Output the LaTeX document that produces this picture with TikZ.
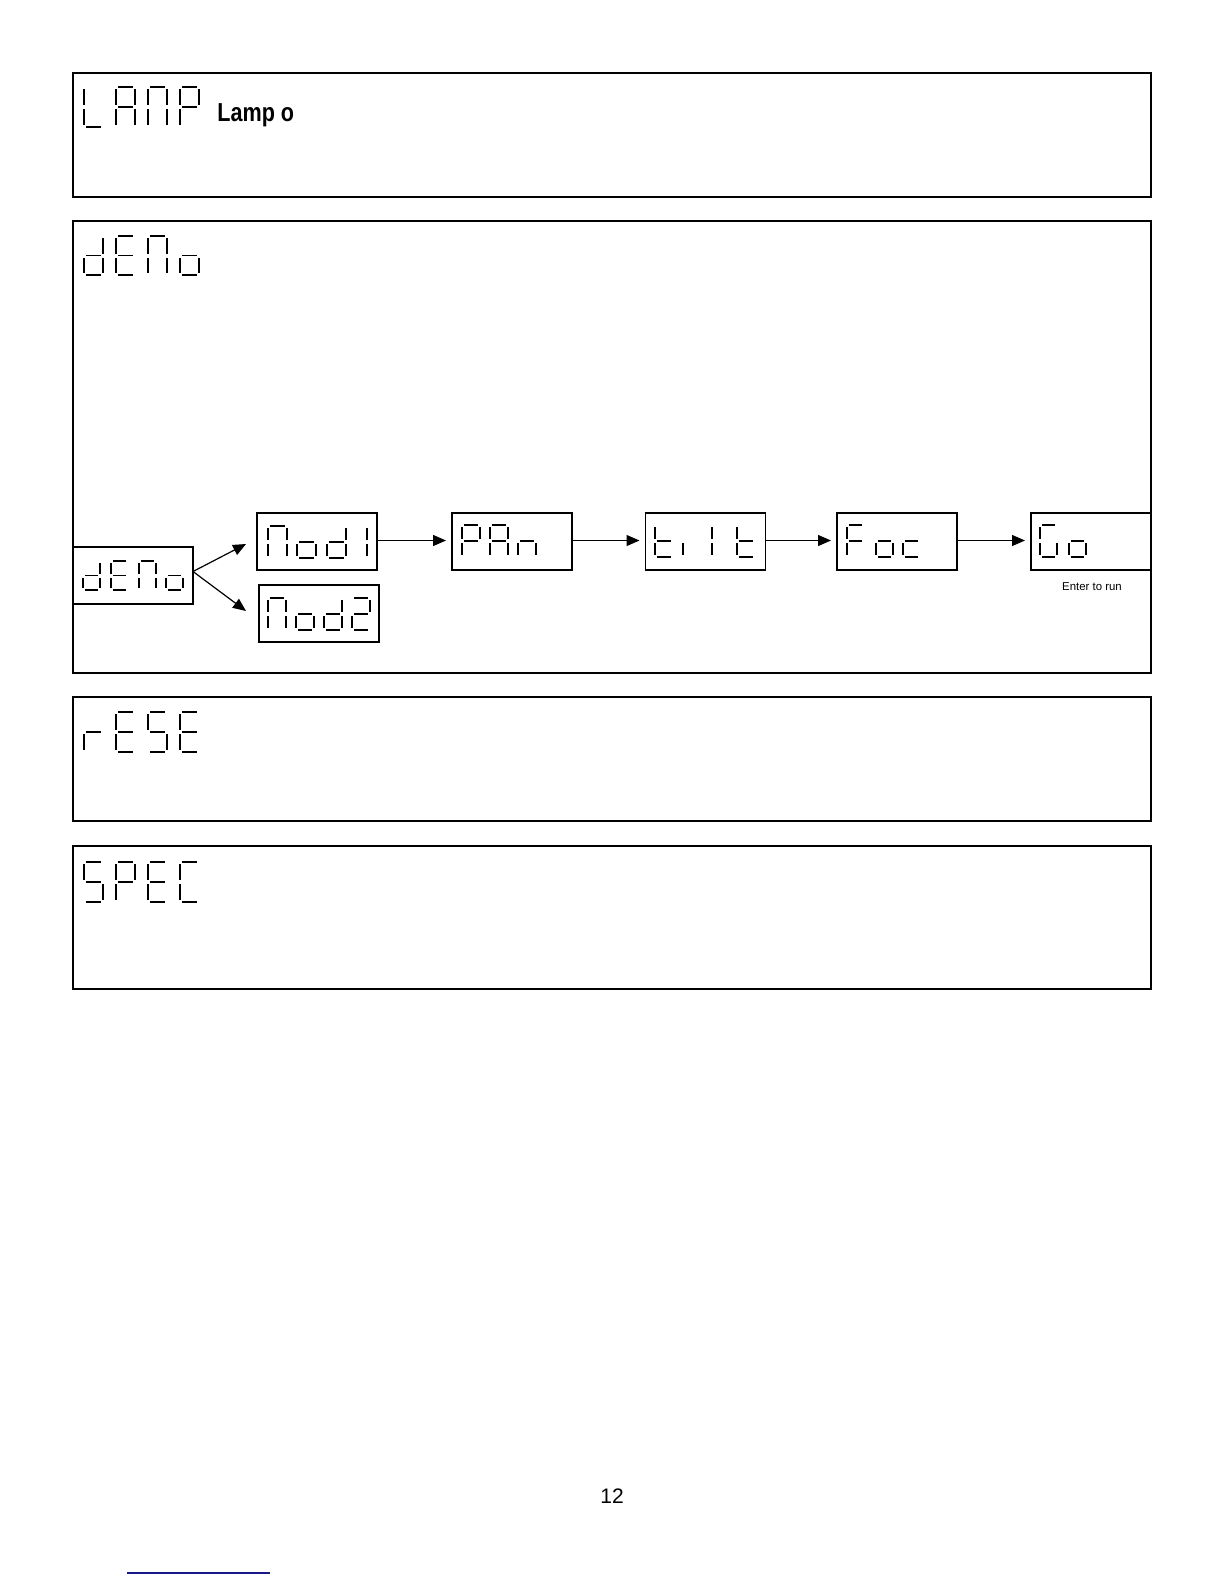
\documentclass[tikz,border=0pt]{standalone}
\usepackage{fontspec}
\setmainfont{Liberation Sans}
\newfontfamily\lampfont[FakeStretch=0.83]{Liberation Sans}
\usetikzlibrary{arrows.meta}
\definecolor{navyline}{RGB}{25,25,140}

\def\sgpa{(\G,0) -- (\W-\G,0)}
\def\sgpb{(\W,\G) -- (\W,\H/2-\G)}
\def\sgpc{(\W,\H/2+\G) -- (\W,\H-\G)}
\def\sgpd{(\G,\H) -- (\W-\G,\H)}
\def\sgpe{(0,\H/2+\G) -- (0,\H-\G)}
\def\sgpf{(0,\G) -- (0,\H/2-\G)}
\def\sgpg{(\G,\H/2) -- (\W-\G,\H/2)}

% x, y(top), width, height, gap, segments
\newcommand\segdigit[6]{%
  \begin{scope}[shift={(#1,#2)}]
    \def\W{#3}\def\H{#4}\def\G{#5}
    \foreach \s in {#6}{%
      \expandafter\let\expandafter\segpath\csname sgp\s\endcsname
      \draw[segline] \segpath;}
  \end{scope}}

\tikzset{
  frame/.style={draw=black, line width=0.6pt},
  dispbox/.style={draw=black, line width=0.75pt, rectangle,
    minimum width=60pt, minimum height=28.5pt, inner sep=0pt, outer sep=0pt},
  segline/.style={line width=0.95pt, line cap=butt, draw=black},
  flow/.style={-{Triangle[length=6.5pt,width=5.5pt]}, line width=0.6pt, draw=black},
}

\begin{document}
\begin{tikzpicture}[x=0.5pt, y=-0.5pt]
\useasboundingbox (0,0) rectangle (1224,1584);
\fill[white] (0,0) rectangle (1224,1584);

% outer frames
\draw[frame] (73,73) rectangle (1151,197);
\draw[frame] (73,221) rectangle (1151,673);
\draw[frame] (73,697) rectangle (1151,821);
\draw[frame] (73,846) rectangle (1151,989);

% LAMP
\segdigit{84}{87}{19}{40}{2}{d,e,f}
\segdigit{116}{87}{19}{40}{2}{a,b,c,e,f,g}
\segdigit{148}{87}{19}{40}{2}{a,b,c,e,f}
\segdigit{180}{87}{19}{40}{2}{a,b,e,f,g}
\node[anchor=base west, inner sep=0pt, font=\lampfont\bfseries\fontsize{13}{15}\selectfont] (lamptxt) at (217,122) {Lamp o};

% dEMo header
\segdigit{84}{236}{19}{39}{2}{b,c,d,e,g}
\segdigit{116}{236}{19}{39}{2}{a,d,e,f,g}
\segdigit{148}{236}{19}{39}{2}{a,b,c,e,f}
\segdigit{180}{236}{19}{39}{2}{c,d,e,g}

% rESE
\segdigit{84}{712}{19}{40}{2}{e,g}
\segdigit{116}{712}{19}{40}{2}{a,d,e,f,g}
\segdigit{148}{712}{19}{40}{2}{a,c,d,f,g}
\segdigit{180}{712}{19}{40}{2}{a,d,e,f,g}

% SPEC
\segdigit{84}{862}{19}{40}{2}{a,c,d,f,g}
\segdigit{116}{862}{19}{40}{2}{a,b,e,f,g}
\segdigit{148}{862}{19}{40}{2}{a,d,e,f,g}
\segdigit{180}{862}{19}{40}{2}{a,d,e,f}

% display boxes
\node[dispbox] (demo2) at (133,575.5) {};
\node[dispbox] (mod1) at (317,541.5) {};
\node[dispbox] (mod2) at (319,613.5) {};
\node[dispbox] (pan) at (512,541.5) {};
\node[dispbox] (tilt) at (705.5,541.5) {};
\node[dispbox] (foc) at (897,541.5) {};
\node[dispbox] (go) at (1091,541.5) {};

% dEMo small
\segdigit{83}{561}{17}{29}{2}{b,c,d,e,g}
\segdigit{111}{561}{17}{29}{2}{a,d,e,f,g}
\segdigit{139}{561}{17}{29}{2}{a,b,c,e,f}
\segdigit{166}{561}{17}{29}{2}{c,d,e,g}

% Mod1
\segdigit{268}{526}{19}{32}{2}{a,b,c,e,f}
\segdigit{297}{526}{19}{32}{2}{c,d,e,g}
\segdigit{327}{526}{19}{32}{2}{b,c,d,e,g}
\segdigit{348}{526}{19}{32}{2}{b,c}

% Mod2
\segdigit{268}{598}{18}{32}{2}{a,b,c,e,f}
\segdigit{296}{598}{18}{32}{2}{c,d,e,g}
\segdigit{324}{598}{18}{32}{2}{b,c,d,e,g}
\segdigit{352}{598}{18}{32}{2}{a,b,d,e,g}

% PAn
\segdigit{462}{525}{18}{32}{2}{a,b,e,f,g}
\segdigit{490}{525}{18}{32}{2}{a,b,c,e,f,g}
\segdigit{518}{525}{18}{32}{2}{c,e,g}

% tilt
\segdigit{655}{525}{18}{32}{2}{d,e,f,g}
\segdigit{683}{525}{18}{32}{2}{e}
\segdigit{712}{525}{18}{32}{2}{e,f}
\segdigit{737}{525}{18}{32}{2}{d,e,f,g}

% Foc
\segdigit{847}{525}{17}{32}{2}{a,e,f,g}
\segdigit{876}{525}{17}{32}{2}{c,d,e,g}
\segdigit{903}{525}{17}{32}{2}{d,e,g}

% Go
\segdigit{1040}{525}{17}{32}{2}{a,c,d,e,f}
\segdigit{1069}{525}{17}{32}{2}{c,d,e,g}

\node[font=\fontsize{5.7}{7}\selectfont, inner sep=0pt] (enter) at (1092,587) {Enter to run};

% connectors
\coordinate (tipa) at (246,544);
\coordinate (tipb) at (246,611);
\draw[flow] ([yshift=2pt]demo2.east) -- (tipa);
\draw[flow] ([yshift=2pt]demo2.east) -- (tipb);
\draw[flow, shorten >=3pt] ([yshift=0.5pt]mod1.east) -- ([yshift=0.5pt]pan.west);
\draw[flow, shorten >=3pt] ([yshift=0.5pt]pan.east) -- ([yshift=0.5pt]tilt.west);
\draw[flow, shorten >=3pt] ([yshift=0.5pt]tilt.east) -- ([yshift=0.5pt]foc.west);
\draw[flow, shorten >=3pt] ([yshift=0.5pt]foc.east) -- ([yshift=0.5pt]go.west);

% page number and footer line
\node[font=\fontsize{10.5}{12}\selectfont, inner sep=0pt] (pagenum) at (612,1496) {12};
\draw[draw=navyline, line width=0.75pt] (127,1573) -- (270,1573);
\end{tikzpicture}
\end{document}
